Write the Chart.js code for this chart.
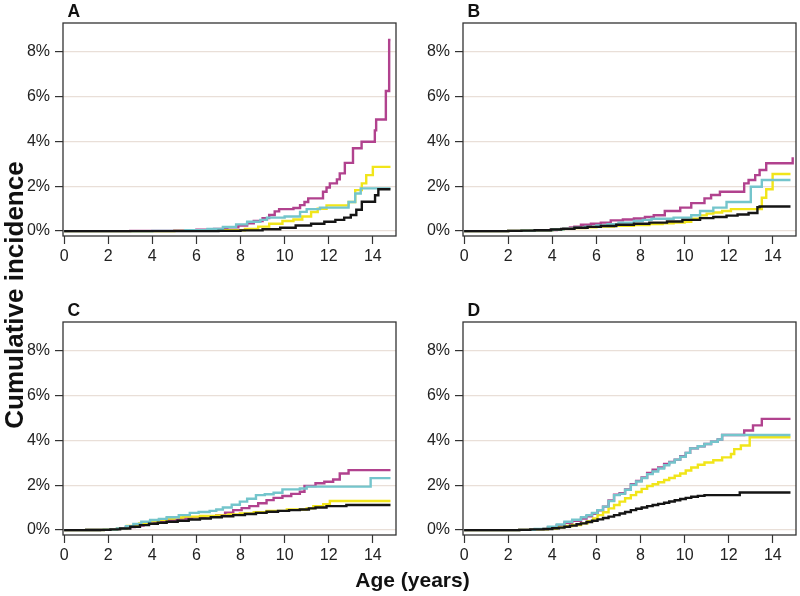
<!DOCTYPE html>
<html>
<head>
<meta charset="utf-8">
<script src="https://cdn.jsdelivr.net/npm/chart.js@4"></script>
<style>
  body { margin: 0; background: #fff; }
  #wrap { position: relative; width: 800px; height: 596px; overflow: hidden; background: #fff; }
  canvas { position: absolute; }
  .ytitle {
    position: absolute; left: -136px; top: 279.5px; width: 300px; height: 30px;
    line-height: 30px; text-align: center; transform: rotate(-90deg);
    font: bold 26px 'Liberation Sans', Arial, sans-serif; color: #111;
  }
  .xtitle {
    position: absolute; left: 262.5px; top: 568px; width: 300px; height: 24px;
    line-height: 24px; text-align: center;
    font: bold 21px 'Liberation Sans', Arial, sans-serif; color: #111;
  }
</style>
</head>
<body>
<div id="wrap">
  <canvas id="cA" width="400" height="290" style="left:0;top:0"></canvas>
  <canvas id="cB" width="400" height="290" style="left:400px;top:0"></canvas>
  <canvas id="cC" width="400" height="290" style="left:0;top:299px"></canvas>
  <canvas id="cD" width="400" height="290" style="left:400px;top:299px"></canvas>
  <div class="ytitle">Cumulative incidence</div>
  <div class="xtitle">Age (years)</div>
</div>
<script>
// [age in years, cumulative incidence in %]
const aMagenta = [[0,0],[3,0.01],[5,0.03],[6,0.06],[6.8,0.1],[7.4,0.17],[7.9,0.25],[8.3,0.35],[8.6,0.45],[9.0,0.58],[9.3,0.72],[9.55,0.88],[9.75,0.98],[10.4,1.03],[10.7,1.16],[10.9,1.3],[11.07,1.46],[11.74,1.76],[11.9,1.95],[12.05,2.13],[12.37,2.31],[12.5,2.58],[12.73,3.05],[13.1,3.7],[13.49,3.99],[14.09,4.5],[14.15,4.99],[14.59,6.26],[14.74,8.54],[14.8,8.54]];
const aYellow = [[0,0],[5,0.01],[7,0.04],[8.2,0.1],[8.8,0.2],[9.3,0.33],[9.9,0.45],[10.4,0.52],[10.8,0.65],[11.2,0.85],[11.5,1.0],[11.9,1.15],[12.9,1.3],[13.2,1.83],[13.5,2.13],[13.7,2.5],[14.0,2.87],[14.8,2.87]];
const aCyan = [[0,0],[4,0.01],[5.5,0.04],[6.5,0.1],[7.2,0.18],[7.8,0.3],[8.3,0.42],[8.9,0.5],[9.2,0.6],[10.0,0.65],[10.7,0.86],[11.0,0.98],[11.6,1.05],[12.9,1.3],[13.2,1.68],[13.45,1.91],[14.8,1.91]];
const aBlack = [[0,0],[7,0.01],[8,0.03],[9,0.08],[9.8,0.15],[10.5,0.25],[11.2,0.33],[11.8,0.42],[12.3,0.5],[12.7,0.6],[13.0,0.72],[13.25,0.95],[13.5,1.31],[14.1,1.6],[14.25,1.87],[14.8,1.87]];

const bMagenta = [[0,0],[2,0.01],[3,0.02],[3.9,0.05],[4.2,0.08],[4.5,0.12],[4.8,0.16],[5.0,0.2],[5.3,0.28],[5.75,0.33],[6.2,0.38],[6.65,0.48],[7.2,0.52],[7.7,0.56],[8.2,0.63],[8.6,0.71],[9.1,0.9],[9.8,1.05],[10.3,1.25],[10.9,1.46],[11.2,1.61],[11.6,1.76],[12.7,2.13],[12.9,2.28],[13.2,2.5],[13.4,2.73],[13.7,3.03],[14.85,3.03],[14.9,3.3]];
const bYellow = [[0,0],[2,0.01],[2.6,0.02],[3.2,0.04],[4,0.07],[4.5,0.1],[5,0.13],[5.5,0.17],[6,0.2],[6.8,0.24],[7.7,0.27],[8.4,0.31],[9,0.35],[9.5,0.38],[10.0,0.42],[10.3,0.55],[10.7,0.7],[11.0,0.78],[11.3,0.83],[11.7,0.9],[12.1,0.98],[13.5,1.49],[13.7,1.87],[13.99,2.55],[14.8,2.55]];
const bCyan = [[0,0],[2,0.01],[2.6,0.02],[3.2,0.04],[4,0.07],[4.5,0.11],[5,0.15],[5.5,0.2],[6,0.25],[6.5,0.31],[7,0.38],[7.7,0.45],[8.1,0.5],[8.5,0.55],[9.5,0.6],[10.3,0.71],[10.7,0.9],[11.3,1.05],[11.9,1.3],[13.0,1.98],[13.5,2.28],[14.8,2.28]];
const bBlack = [[0,0],[2,0.01],[2.6,0.02],[3.2,0.04],[3.94,0.07],[4.4,0.1],[5,0.15],[5.6,0.19],[6.2,0.23],[6.9,0.28],[7.7,0.33],[8.4,0.38],[9.2,0.43],[9.9,0.5],[10.7,0.58],[11.3,0.63],[11.9,0.69],[12.4,0.74],[12.9,0.81],[13.3,1.07],[13.4,1.1],[14.8,1.1]];

const cMagenta = [[0,0],[1,0.005],[1.8,0.02],[2.4,0.06],[2.8,0.13],[3.2,0.2],[3.6,0.28],[4.1,0.36],[4.65,0.45],[5.2,0.52],[5.8,0.58],[6.4,0.62],[6.9,0.67],[7.3,0.78],[7.67,0.89],[8.05,0.98],[8.4,1.07],[8.8,1.2],[9.18,1.34],[9.5,1.44],[9.9,1.52],[10.3,1.62],[10.69,1.71],[10.9,1.97],[11.4,2.09],[11.8,2.16],[12.2,2.26],[12.5,2.53],[12.9,2.68],[14.8,2.68]];
const cYellow = [[0,0],[1,0.005],[1.8,0.02],[2.4,0.06],[2.84,0.18],[3.4,0.3],[3.9,0.4],[4.3,0.46],[4.65,0.52],[5.0,0.56],[5.4,0.6],[6.16,0.63],[6.9,0.65],[7.45,0.7],[7.97,0.74],[8.6,0.8],[9.18,0.86],[10.1,0.92],[11.0,0.97],[11.3,1.07],[11.75,1.16],[12.05,1.3],[14.8,1.3]];
const cCyan = [[0,0],[1,0.005],[1.8,0.02],[2.4,0.07],[2.8,0.17],[3.14,0.27],[3.5,0.37],[3.9,0.45],[4.3,0.5],[4.65,0.57],[5.2,0.67],[5.7,0.77],[6.1,0.81],[6.6,0.86],[6.9,0.92],[7.2,1.01],[7.6,1.13],[7.97,1.27],[8.3,1.4],[8.7,1.56],[9.1,1.6],[9.5,1.67],[9.9,1.82],[10.69,1.86],[11.0,1.94],[13.86,1.94],[13.9,2.32],[14.8,2.32]];
const cBlack = [[0,0],[1,0.005],[1.63,0.01],[2.1,0.03],[2.54,0.07],[3.0,0.15],[3.44,0.22],[3.85,0.28],[4.25,0.33],[4.65,0.37],[5.15,0.42],[5.65,0.47],[6.16,0.52],[6.65,0.57],[7.15,0.62],[7.67,0.67],[8.2,0.72],[8.7,0.77],[9.18,0.82],[9.7,0.86],[10.2,0.89],[10.69,0.92],[11.1,0.97],[11.4,1.01],[11.9,1.07],[12.8,1.12],[14.8,1.12]];

const dMagenta = [[0,0],[2.5,0.01],[3.2,0.04],[3.8,0.12],[4.2,0.22],[4.55,0.33],[4.9,0.42],[5.3,0.52],[5.55,0.62],[5.8,0.73],[6.05,0.88],[6.3,1.05],[6.55,1.32],[6.8,1.58],[7.05,1.65],[7.3,1.82],[7.56,2.05],[7.8,2.2],[8.05,2.35],[8.3,2.55],[8.55,2.7],[8.8,2.8],[9.07,2.95],[9.3,3.05],[9.55,3.15],[9.8,3.3],[10.05,3.45],[10.25,3.65],[10.6,3.75],[10.9,3.85],[11.2,3.95],[11.5,4.05],[11.7,4.25],[12.7,4.45],[13.1,4.68],[13.5,4.97],[14.8,4.97]];
const dYellow = [[0,0],[2.5,0.01],[3.2,0.03],[3.8,0.07],[4.2,0.12],[4.55,0.18],[4.9,0.23],[5.3,0.3],[5.6,0.4],[5.85,0.52],[6.05,0.67],[6.3,0.8],[6.55,0.97],[6.8,1.12],[7.05,1.27],[7.3,1.42],[7.56,1.56],[7.8,1.7],[8.05,1.84],[8.3,1.97],[8.55,2.05],[8.8,2.14],[9.07,2.24],[9.3,2.33],[9.55,2.43],[9.8,2.53],[10.05,2.66],[10.3,2.8],[10.6,2.92],[10.9,3.02],[11.3,3.12],[11.7,3.25],[12.1,3.4],[12.25,3.62],[12.55,3.78],[12.95,4.15],[14.8,4.15]];
const dCyan = [[0,0],[2.5,0.01],[3.2,0.05],[3.8,0.15],[4.2,0.25],[4.55,0.37],[4.9,0.46],[5.3,0.57],[5.55,0.66],[5.8,0.76],[6.05,0.89],[6.3,1.05],[6.55,1.3],[6.8,1.56],[7.05,1.62],[7.3,1.8],[7.56,2.02],[7.8,2.17],[8.05,2.33],[8.3,2.5],[8.55,2.62],[8.8,2.75],[9.07,2.9],[9.3,3.02],[9.55,3.15],[9.8,3.28],[10.05,3.45],[10.25,3.65],[10.6,3.75],[10.9,3.85],[11.2,3.95],[11.5,4.05],[11.7,4.25],[14.8,4.25]];
const dBlack = [[0,0],[2.5,0.01],[3.0,0.03],[3.6,0.05],[4.0,0.08],[4.3,0.11],[4.55,0.15],[4.8,0.2],[5.1,0.26],[5.3,0.3],[5.55,0.36],[5.8,0.42],[6.05,0.48],[6.3,0.54],[6.55,0.6],[6.8,0.67],[7.05,0.74],[7.3,0.81],[7.56,0.89],[7.8,0.95],[8.05,1.01],[8.3,1.07],[8.55,1.12],[8.8,1.17],[9.07,1.22],[9.3,1.28],[9.55,1.33],[9.8,1.39],[10.05,1.44],[10.3,1.49],[10.6,1.53],[10.9,1.56],[12.5,1.68],[14.8,1.68]];

const xTicks = [0, 2, 4, 6, 8, 10, 12, 14];
const yTicks = [0, 2, 4, 6, 8];
const lineColors = ["#b1428e", "#f1e51a", "#74c5cc", "#151515"];
const drawOrder = [3, 2, 1, 0];

const panels = [
    { canvas: "cA", letter: "A", series: [aMagenta, aYellow, aCyan, aBlack] },
    { canvas: "cB", letter: "B", series: [bMagenta, bYellow, bCyan, bBlack] },
    { canvas: "cC", letter: "C", series: [cMagenta, cYellow, cCyan, cBlack] },
    { canvas: "cD", letter: "D", series: [dMagenta, dYellow, dCyan, dBlack] }
];

Chart.defaults.font.family = "'Liberation Sans', Arial, sans-serif";
Chart.defaults.font.size = 16;
Chart.defaults.color = "#222";

// frame round the plot area and the panel letter
const framePlugin = {
    id: "frame",
    afterDraw(chart, args, opts) {
        const a = chart.chartArea;
        const ctx = chart.ctx;
        ctx.save();
        ctx.strokeStyle = "#333";
        ctx.lineWidth = 1.3;
        ctx.strokeRect(a.left, a.top, a.right - a.left, a.bottom - a.top);
        ctx.fillStyle = "#111";
        ctx.font = "bold 17.5px 'Liberation Sans', Arial, sans-serif";
        ctx.textBaseline = "alphabetic";
        ctx.fillText(opts.letter, a.left + 4.5, 17.3);
        ctx.restore();
    }
};

panels.forEach(p => {
    new Chart(document.getElementById(p.canvas), {
        type: "line",
        data: {
            datasets: p.series.map((s, i) => ({
                data: s.map(pt => ({ x: pt[0], y: pt[1] })),
                borderColor: lineColors[i],
                borderWidth: 2.4,
                pointRadius: 0,
                stepped: true,
                fill: false,
                order: drawOrder[i]
            }))
        },
        options: {
            responsive: false,
            animation: false,
            layout: { padding: { top: 23, right: 4, left: 0, bottom: 0 } },
            plugins: {
                legend: { display: false },
                tooltip: { enabled: false },
                frame: { letter: p.letter }
            },
            scales: {
                x: {
                    type: "linear",
                    min: -0.05,
                    max: 15.05,
                    afterBuildTicks: s => { s.ticks = xTicks.map(v => ({ value: v })); },
                    afterFit: s => { s.height = 54; },
                    border: { display: false },
                    grid: { drawOnChartArea: false, drawTicks: true, tickLength: 8, tickColor: "#333", tickWidth: 1.2 },
                    ticks: { padding: 3, maxRotation: 0, autoSkip: false }
                },
                y: {
                    type: "linear",
                    min: -0.22,
                    max: 9.3,
                    afterBuildTicks: s => { s.ticks = yTicks.map(v => ({ value: v })); },
                    afterFit: s => { s.width = 63; },
                    border: { display: false },
                    grid: { color: "#e9dfd8", lineWidth: 1.2, drawTicks: true, tickLength: 8, tickColor: "#333", tickWidth: 1.2 },
                    ticks: { padding: 5, callback: v => v + "%" }
                }
            }
        },
        plugins: [framePlugin]
    });
});
</script>
</body>
</html>
